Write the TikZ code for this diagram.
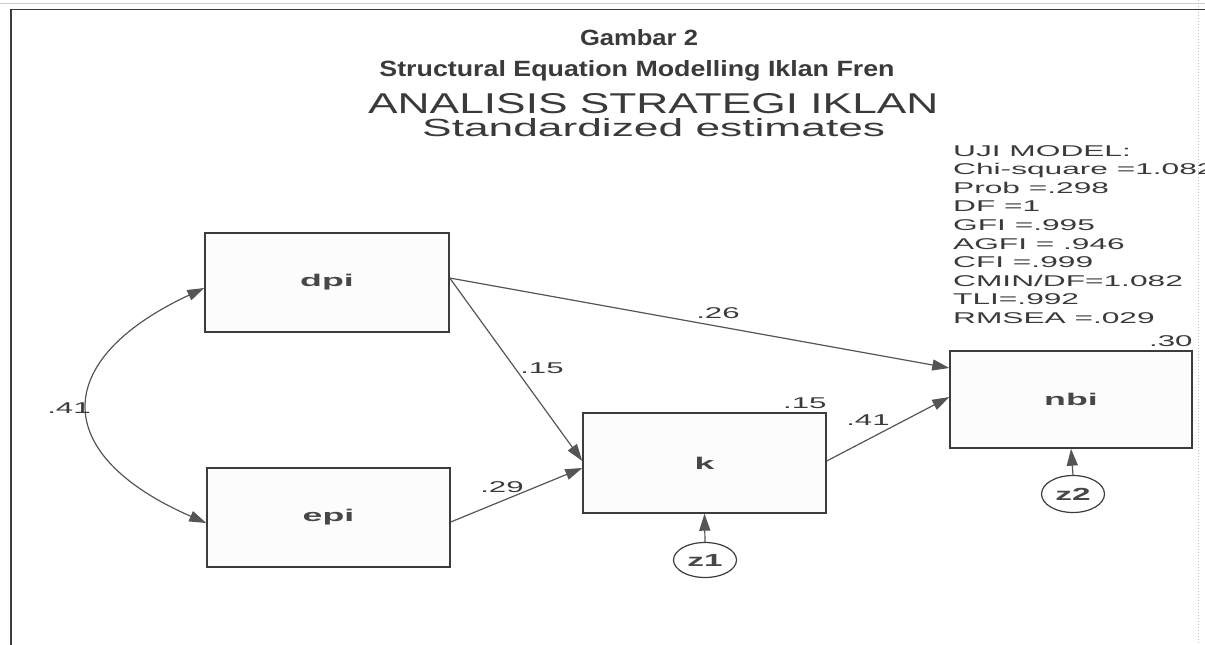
\documentclass[tikz,border=0pt]{standalone}
\usepackage{fontspec}
\usepackage{graphicx}
\setmainfont{Liberation Sans}
\usetikzlibrary{arrows.meta,shapes.geometric}
\definecolor{ink}{HTML}{3A3A3A}
\definecolor{lineink}{HTML}{555555}
\definecolor{boxink}{HTML}{3C3C3C}
\newcommand\stx[3]{\scalebox{#1}[1]{\fontsize{#2}{#2}\selectfont #3}}
\tikzset{
  varbox/.style={draw=boxink, line width=1.4pt, fill=black!1, rectangle, inner sep=0pt,
    text=black!72, font=\bfseries},
  errell/.style={draw=boxink, line width=1.2pt, ellipse, inner sep=0pt,
    text=black!72, font=\bfseries},
  path/.style={draw=lineink, line width=1.2pt, -{Triangle[length=17pt,width=11pt]}},
  dpath/.style={draw=lineink, line width=1.2pt, {Triangle[length=17pt,width=11pt]}-{Triangle[length=17pt,width=11pt]}},
  coef/.style={text=ink, inner sep=0pt},
  fitline/.style={text=ink, inner sep=0pt, anchor=base west},
}
\begin{document}
\begin{tikzpicture}[x=1pt,y=-1pt]
\useasboundingbox (0,0) rectangle (1205,645);
% page frame
\draw[black!20, line width=0.8pt] (0,3) -- (1205,3);
\draw[black!25, line width=1pt, dotted] (1198,0) -- (1198,645);
\draw[boxink, line width=1.6pt] (11,645) -- (11,9.5) -- (1205,9.5);

% titles
\node[text=ink, inner sep=0pt, anchor=base] (t1) at (639,45) {\resizebox{118pt}{16pt}{\bfseries Gambar 2}};
\node[text=ink, inner sep=0pt, anchor=base] (t2) at (637,76) {\resizebox{515pt}{16pt}{\bfseries Structural Equation Modelling Iklan Fren}};
\node[text=ink, inner sep=0pt, anchor=base west] (t3) at (368,113) {\resizebox{570pt}{20pt}{ANALISIS STRATEGI IKLAN}};
\node[text=ink, inner sep=0pt, anchor=base west] (t4) at (422,136) {\resizebox{463pt}{18pt}{Standardized estimates}};

% fit indices
\foreach \i/\t in {0/{UJI MODEL:},1/{Chi-square =1.082},2/{Prob =.298},3/{DF =1},4/{GFI =.995},5/{AGFI = .946},6/{CFI =.999},7/{CMIN/DF=1.082},8/{TLI=.992},9/{RMSEA =.029}}{
  \node[fitline] (fit\i) at (953,{156+18.6*\i}) {\stx{2.03}{15.6pt}{\t}};
}

% variables
\node[varbox, minimum width=244pt, minimum height=99pt] (dpi) at (327,282.5) {\stx{2.1}{17pt}{dpi}};
\node[varbox, minimum width=243pt, minimum height=99pt] (epi) at (328.5,517.5) {\stx{2.1}{17pt}{epi}};
\node[varbox, minimum width=243pt, minimum height=100pt] (k) at (704.5,463) {\stx{2.1}{17pt}{k}};
\node[varbox, minimum width=242pt, minimum height=97pt] (nbi) at (1071,399.5) {\stx{2.1}{17pt}{nbi}};
\node[errell, minimum width=63pt, minimum height=35pt] (z1) at (705,560) {\stx{1.9}{17.5pt}{z1}};
\node[errell, minimum width=63pt, minimum height=37pt] (z2) at (1073,494) {\stx{1.9}{17.5pt}{z2}};

% squared multiple correlations
\node[coef, anchor=base east] (r2k) at (k.north east |- 0,408) {\stx{2}{15.6pt}{.15}};
\node[coef, anchor=base east] (r2n) at (nbi.north east |- 0,346) {\stx{2}{15.6pt}{.30}};

% paths
\draw[path] ([yshift=4.5pt]dpi.east) -- ([yshift=31.5pt]nbi.west);
\draw[path] ([yshift=4.5pt]dpi.east) -- ([yshift=2pt]k.west);
\draw[path] ([yshift=-4.5pt]epi.east) -- ([yshift=-5pt]k.west);
\draw[path] ([yshift=2pt]k.east) -- ([yshift=2.5pt]nbi.west);
\draw[path] (z1.north) -- (k.south);
\draw[path] (z2.north) -- (nbi.south);
\draw[dpath] ([yshift=-5.5pt]dpi.west) .. controls (50,360) and (50,455) .. ([yshift=-5.5pt]epi.west);

% coefficients
\node[coef] (c26) at (718,313) {\stx{2}{15.6pt}{.26}};
\node[coef] (c15) at (542,368) {\stx{2}{15.6pt}{.15}};
\node[coef] (c29) at (502,487) {\stx{2}{15.6pt}{.29}};
\node[coef] (c41) at (868,420) {\stx{2}{15.6pt}{.41}};
\node[coef] (c41b) at (69,408) {\stx{2}{15.6pt}{.41}};
\end{tikzpicture}
\end{document}
